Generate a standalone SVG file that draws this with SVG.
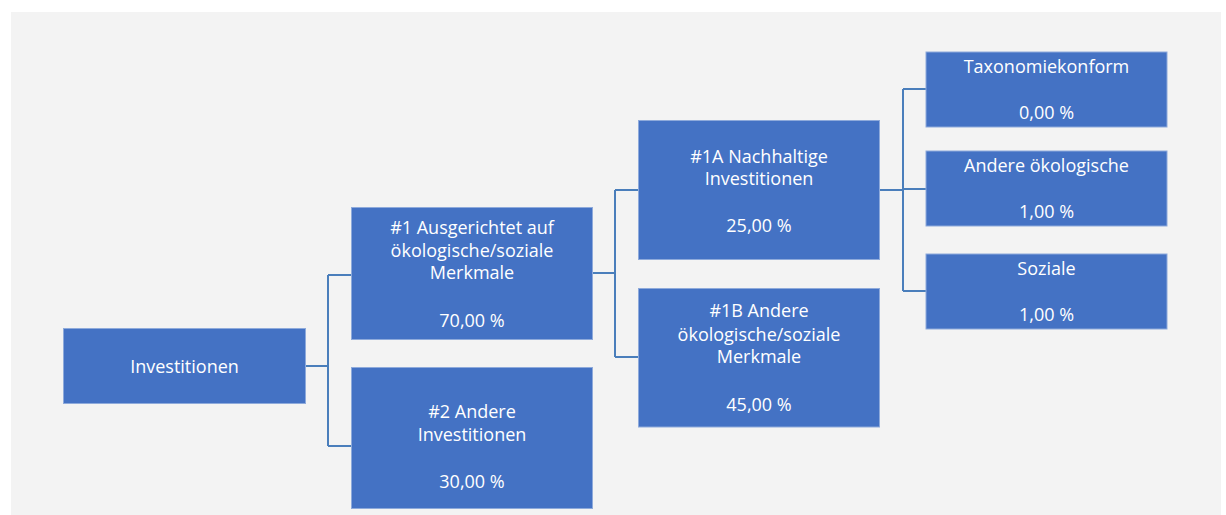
<svg xmlns="http://www.w3.org/2000/svg" width="1226" height="515" viewBox="0 0 1226 515">
<style>
.node{fill:#4472C4;stroke:#8EAADB;stroke-width:1}
.t{fill:#FFFFFF;font-family:"Open Sans","Noto Sans","Liberation Sans",sans-serif;font-size:18px;text-anchor:middle}
.c{fill:none;stroke:#4A7EBB;stroke-width:2}
</style>
<rect x="0" y="0" width="1226" height="515" fill="#FFFFFF"/>
<rect x="11" y="12" width="1210" height="503" fill="#F3F3F3"/>
<g id="connectors">
<path class="c" d="M305.5,366 H328 M328,275 V446 M328,275 H351 M328,446 H351"/>
<path class="c" d="M593,273 H615 M615,190 V357 M615,190 H638 M615,357 H638"/>
<path class="c" d="M880,190 H903 M903,89 V291 M903,89 H926 M903,189 H926 M903,291 H926"/>
</g>
<g id="n0"><rect class="node" x="63.5" y="328.5" width="242" height="75"/><text class="t" x="184.5" y="372.5">Investitionen</text></g>
<g id="n1"><rect class="node" x="351.5" y="207.5" width="241" height="132"/><text class="t" x="472" y="234">#1 Ausgerichtet auf</text><text class="t" x="472" y="256.7">ökologische/soziale</text><text class="t" x="472" y="279.3">Merkmale</text><text class="t" x="472" y="326.7">70,00 %</text></g>
<g id="n2"><rect class="node" x="351.5" y="367.5" width="241" height="141"/><text class="t" x="472" y="418.3">#2 Andere</text><text class="t" x="472" y="441">Investitionen</text><text class="t" x="472" y="488.3">30,00 %</text></g>
<g id="n1a"><rect class="node" x="638.5" y="120.5" width="241" height="139"/><text class="t" x="759" y="162.7">#1A Nachhaltige</text><text class="t" x="759" y="185">Investitionen</text><text class="t" x="759" y="231.7">25,00 %</text></g>
<g id="n1b"><rect class="node" x="638.5" y="288.5" width="241" height="138.5"/><text class="t" x="759" y="317.3">#1B Andere</text><text class="t" x="759" y="340.7">ökologische/soziale</text><text class="t" x="759" y="363.3">Merkmale</text><text class="t" x="759" y="410.7">45,00 %</text></g>
<g id="n3"><rect class="node" x="926" y="52" width="241" height="75"/><text class="t" x="1046.5" y="72.7">Taxonomiekonform</text><text class="t" x="1046.5" y="119">0,00 %</text></g>
<g id="n4"><rect class="node" x="926" y="151" width="241" height="75"/><text class="t" x="1046.5" y="171.7">Andere ökologische</text><text class="t" x="1046.5" y="217.7">1,00 %</text></g>
<g id="n5"><rect class="node" x="926" y="254" width="241" height="75"/><text class="t" x="1046.5" y="275">Soziale</text><text class="t" x="1046.5" y="320.7">1,00 %</text></g>
</svg>
